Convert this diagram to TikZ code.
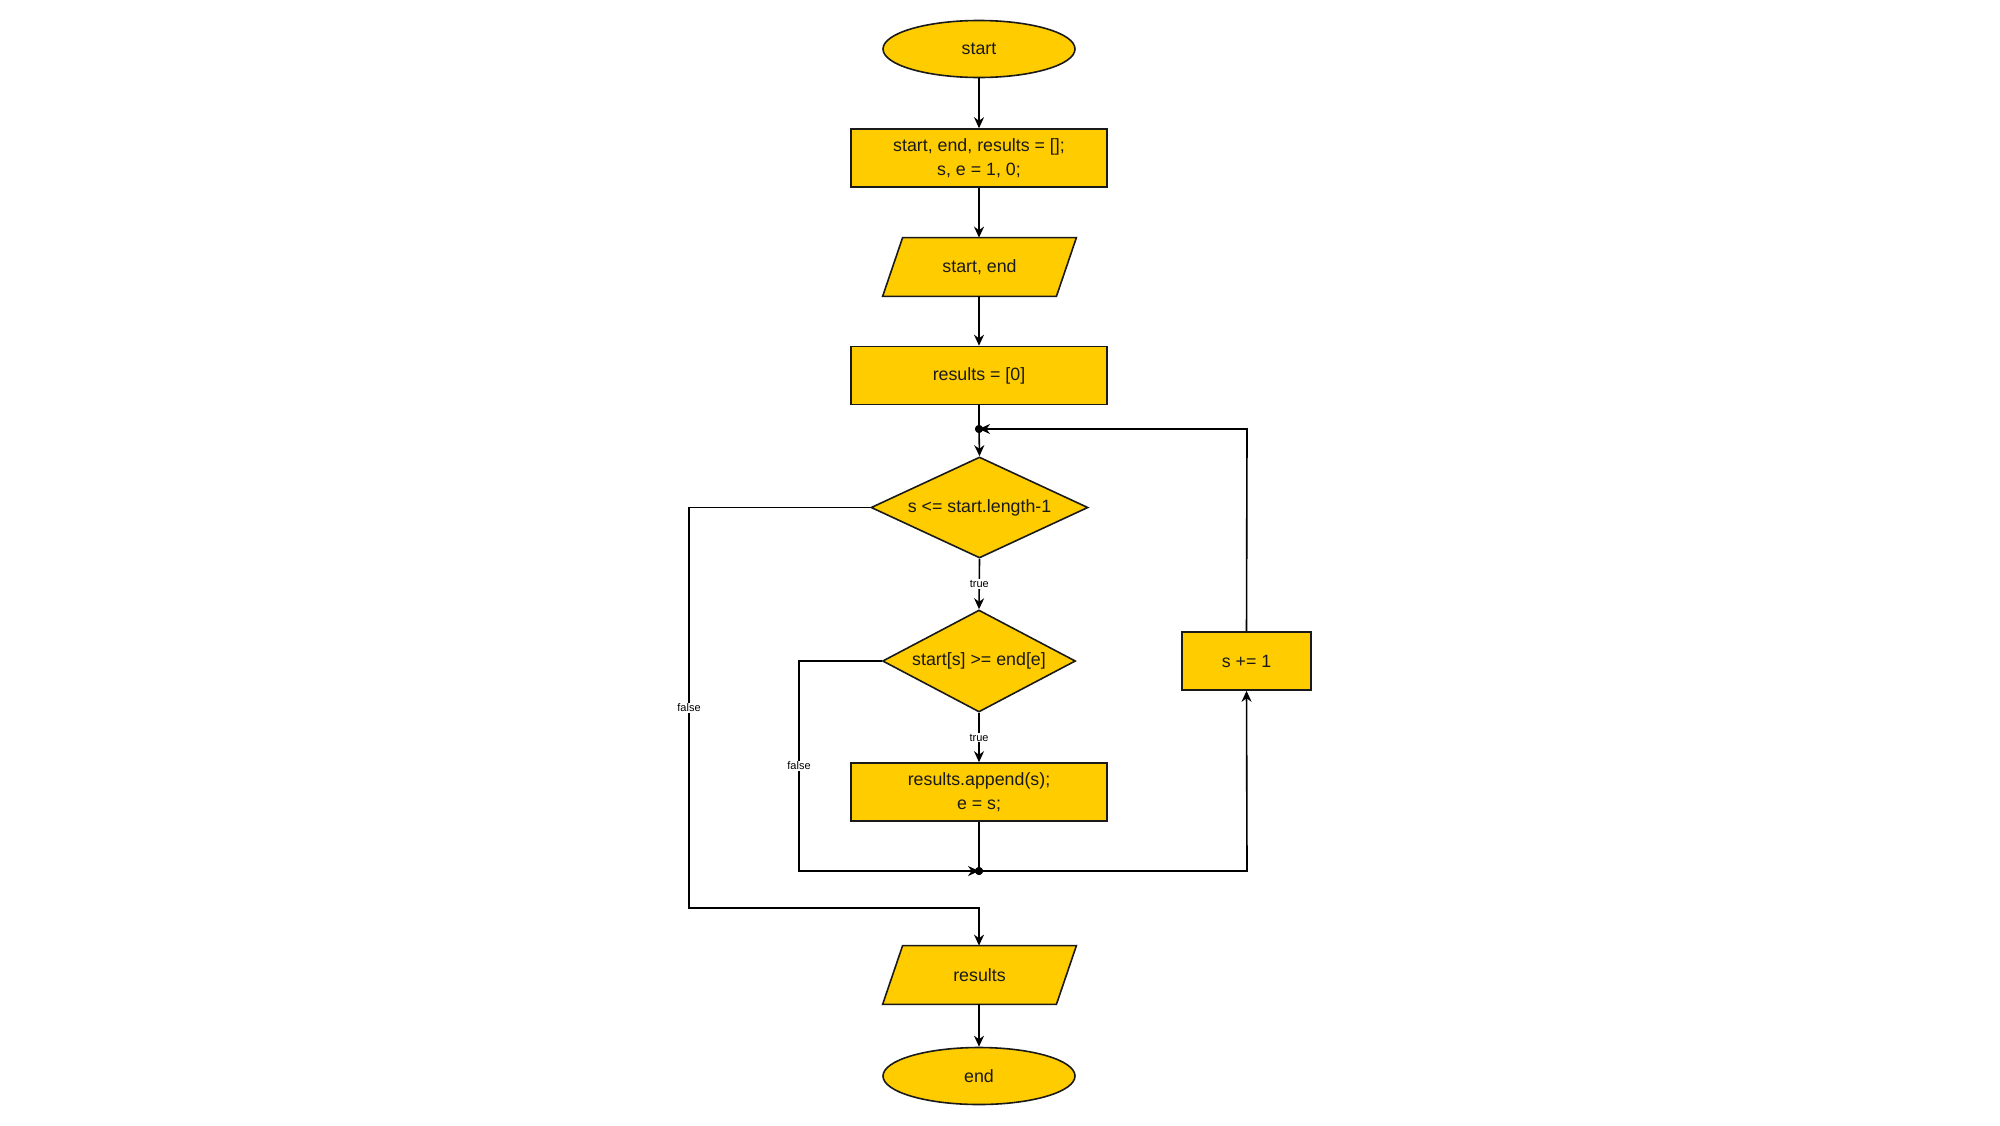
\documentclass[tikz,border=0pt]{standalone}
\usepackage{fontspec}
\setmainfont{Liberation Sans}
\usetikzlibrary{shapes.geometric,arrows.meta,backgrounds}
\definecolor{boxfill}{HTML}{FFCC00}
\definecolor{ink}{HTML}{1A1A1A}

\begin{document}
\begin{tikzpicture}[x=0.5pt,y=-0.5pt,
  every node/.style={font=\fontsize{8.9}{12}\selectfont, text=ink},
  blk/.style={draw=ink, fill=boxfill, line width=0.8pt},
  proc/.style={blk, rectangle, minimum width=128pt, minimum height=29pt, align=center, inner sep=0pt},
  term/.style={blk, ellipse, minimum width=96pt, minimum height=28.5pt, inner sep=0pt},
  io/.style={rectangle, minimum width=86.5pt, minimum height=29pt, inner sep=0pt},
  decision/.style={blk, diamond, inner sep=0pt},
  flow/.style={draw=black, line width=0.8pt, -{Stealth[length=5.5pt,width=5pt,inset=1.8pt]}},
  link/.style={draw=black, line width=0.8pt},
  lbl/.style={font=\fontsize{5.5}{6}\selectfont, fill=white, inner sep=0.6pt, text=black},
  dot/.style={circle, fill=black, inner sep=0pt, minimum size=4pt}
]
\useasboundingbox (0,0) rectangle (2000,1125);

% nodes
\node[term] (start) at (979,49) {start};
\node[proc] (init) at (979,158) {start, end, results = [];\\ s, e = 1, 0;};
\node[io] (input) at (979.5,267) {start, end};
\node[proc] (res0) at (979,375.5) {results = [0]};
\node[dot] (j1) at (979,429) {};
\node[decision, minimum width=108.5pt, minimum height=50.5pt, shape aspect=2.15] (cond1) at (979.5,507.5) {s <= start.length-1};
\node[decision, minimum width=96.5pt, minimum height=51pt, shape aspect=1.9] (cond2) at (979,661) {start[s] >= end[e]};
\node[proc] (append) at (979,792) {results.append(s);\\ e = s;};
\node[dot] (j2) at (979,871) {};
\node[proc, minimum width=64.5pt] (inc) at (1246.5,661) {s += 1};
\node[io] (output) at (979.5,975) {results};
\node[term] (stop) at (979,1076) {end};

% white canvas and the slanted input/output boxes behind the text
\begin{scope}[on background layer]
  \fill[white] (0,0) rectangle (2000,1125);
  \foreach \n in {input,output}
    \filldraw[blk, line join=miter]
      ([xshift=5pt]\n.north west) -- ([xshift=5pt]\n.north east)
      -- ([xshift=-5pt]\n.south east) -- ([xshift=-5pt]\n.south west) -- cycle;
\end{scope}

% corner points of the routed connectors
\coordinate (c1w) at (689,507.5);
\coordinate (c1b) at (689,908);
\coordinate (c1r) at (979,908);
\coordinate (c2w) at (799,661);
\coordinate (c2b) at (799,871);
\coordinate (incb) at (1247,871);
\coordinate (inct) at (1247,429);

% connectors
\draw[flow] (start) -- (init);
\draw[flow] (init) -- (input.north -| init.south);
\draw[flow] (input.south -| res0.north) -- (res0);
\draw[link] (res0) -- (j1.center);
\draw[flow] (j1.center) -- (cond1.north);
\draw[flow] (cond1.south) -- node[lbl] {true} (cond2.north);
\draw[flow] (cond2.south) -- node[lbl] {true} (append.north);
\draw[flow] (cond2.west) -- (c2w) -- node[lbl, pos=0.5] {false} (c2b) -- (j2.center);
\draw[link] (append.south) -- (j2.center);
\draw[flow] (j2.center) -- (incb) -- (inc.south);
\draw[flow] (inc.north) -- (inct) -- (j1.center);
\draw[flow] (cond1.west) -- (c1w) -- node[lbl, pos=0.5] {false} (c1b) -- (c1r) -- (output.north -| c1r);
\draw[flow] (output.south -| stop.north) -- (stop);

% junction dots on top of the lines
\fill (j1) circle[radius=2pt];
\fill (j2) circle[radius=2pt];
\end{tikzpicture}
\end{document}
